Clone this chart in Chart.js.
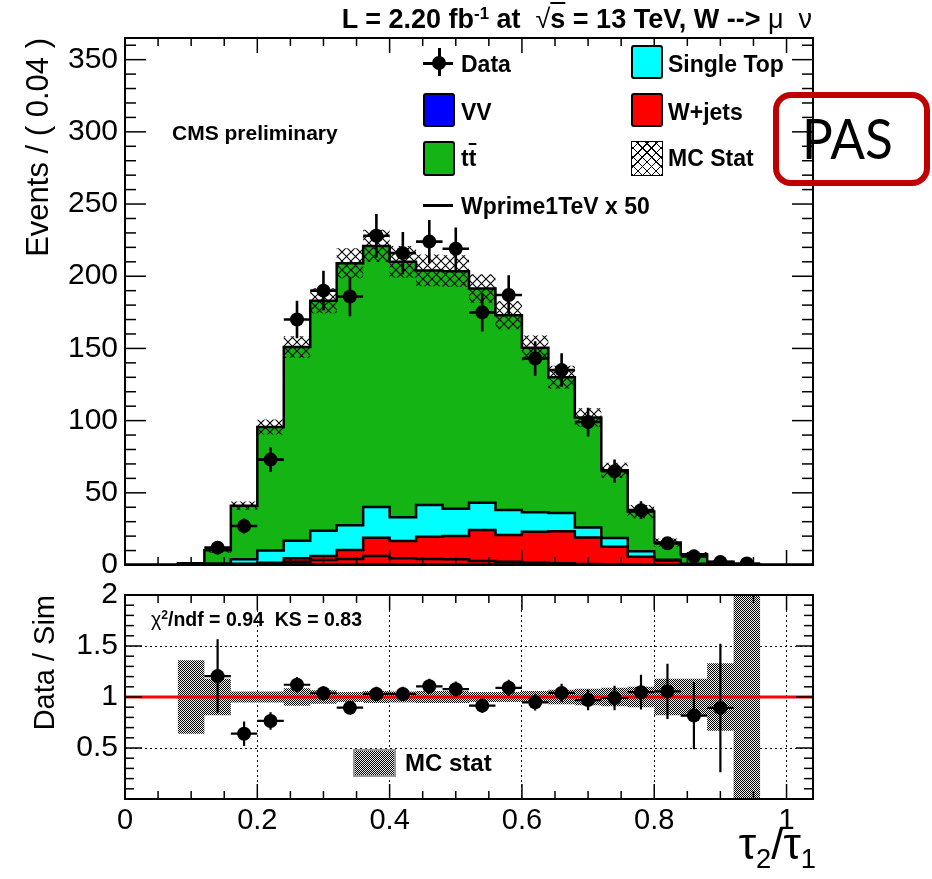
<!DOCTYPE html>
<html>
<head>
<meta charset="utf-8">
<title>tau2/tau1 distribution, W -> mu nu</title>
<script src="https://cdn.jsdelivr.net/npm/chart.js@4.4.1/dist/chart.umd.min.js"></script>
<style>
  html, body { margin: 0; padding: 0; background: #fff; }
  #page { position: relative; width: 932px; height: 879px; overflow: hidden;
          font-family: "Liberation Sans", Arial, Helvetica, sans-serif; color: #000; }
  canvas { position: absolute; left: 0; }
  #mainCanvas { top: 0; }
  #ratioCanvas { top: 580px; }
  .t { position: absolute; white-space: nowrap; line-height: 1; }
  .b { font-weight: bold; }
  .sup { font-size: 0.62em; position: relative; top: -0.55em; }
  .sub { font-size: 0.62em; position: relative; top: 0.32em; }
  .gr { font-weight: normal; }
  .ov { text-decoration: overline; }
  .sw { position: absolute; box-sizing: border-box; border: 2px solid #000; border-radius: 3px; }
  .bar { position: absolute; background: #000; }
  .dot { position: absolute; background: #000; border-radius: 50%; }
  .leg { font-size: 23px; }
  #pas { position: absolute; left: 773px; top: 92px; width: 157px; height: 94px; box-sizing: border-box;
         border: 6px solid #c00000; border-radius: 18px; }
  #pasText { position: absolute; left: 802px; top: 109px; font-family: Lato, "Open Sans", sans-serif;
             font-size: 57px; line-height: 1; transform: scaleX(0.9); transform-origin: 0 0; }
</style>
</head>
<body>
<div id="page">
  <canvas id="mainCanvas" width="932" height="580"></canvas>
  <canvas id="ratioCanvas" width="932" height="299"></canvas>

  <div class="t b" style="right:120px; top:6px; font-size:27px;">L = 2.20 fb<span class="sup">-1</span> at &nbsp;<span class="gr">√</span><span class="ov">s</span> = 13 TeV, W --&gt; <span class="gr">μ&nbsp;&nbsp;ν</span></div>

  <div class="t b" style="left:172px; top:122px; font-size:21px;">CMS preliminary</div>

  <!-- legend -->
  <div class="bar" style="left:423px; top:61.5px; width:30px; height:3px;"></div>
  <div class="bar" style="left:437.5px; top:48px; width:3px; height:28px;"></div>
  <div class="dot" style="left:432px; top:56px; width:14px; height:14px;"></div>
  <div class="t b leg" style="left:461px; top:53px;">Data</div>

  <div class="sw" style="left:631px; top:45px; width:32px; height:34px; background:#00ffff;"></div>
  <div class="t b leg" style="left:668px; top:53px;">Single Top</div>

  <div class="sw" style="left:423px; top:93px; width:32px; height:34px; background:#0000ff;"></div>
  <div class="t b leg" style="left:461px; top:101px;">VV</div>

  <div class="sw" style="left:631px; top:93px; width:32px; height:34px; background:#ff0000;"></div>
  <div class="t b leg" style="left:668px; top:101px;">W+jets</div>

  <div class="sw" style="left:423px; top:141px; width:32px; height:35px; background:#14b414;"></div>
  <div class="t b leg" style="left:461px; top:147px;">t<span class="ov">t</span></div>

  <div class="sw" style="left:631px; top:141px; width:32px; height:35px; border-width:1.5px; border-radius:0;
       background-image: repeating-linear-gradient(45deg, #000 0, #000 1px, transparent 1px, transparent 6.5px),
                         repeating-linear-gradient(-45deg, #000 0, #000 1px, transparent 1px, transparent 6.5px);"></div>
  <div class="t b leg" style="left:668px; top:147px;">MC Stat</div>

  <div class="bar" style="left:423px; top:204px; width:30px; height:3px;"></div>
  <div class="t b leg" style="left:461px; top:195px;">Wprime1TeV x 50</div>

  <div id="pas"></div>
  <div id="pasText">PAS</div>

  <!-- ratio panel annotations -->
  <div class="t b" style="left:151px; top:610px; font-size:19.5px;"><span class="gr">χ</span><span class="sup">2</span>/ndf = 0.94&nbsp;&nbsp;KS = 0.83</div>
  <div style="position:absolute; left:353px; top:749px; width:43px; height:28px; box-sizing:border-box;
       border:2px solid #999; background: repeating-conic-gradient(#000 0 25%, #f0f0f0 0 50%) 0 0 / 2px 2px;"></div>
  <div class="t b" style="left:405px; top:751px; font-size:24px;">MC stat</div>

  <div class="t" style="right:116px; top:822px; font-size:44px;">τ<span class="sub">2</span>/τ<span class="sub">1</span></div>
</div>

<script>
// ---- binning (width 0.04) ----
const binEdges = [0, 0.04, 0.08, 0.12, 0.16, 0.20, 0.24, 0.28, 0.32, 0.36, 0.40, 0.44, 0.48,
                  0.52, 0.56, 0.60, 0.64, 0.68, 0.72, 0.76, 0.80, 0.84, 0.88, 0.92, 0.96, 1.00, 1.04];

// ---- simulated backgrounds, events per bin ----
const vv        = [0, 0, 0, 0, 0.1, 0.2, 0.3, 0.3, 0.4, 0.5, 0.4, 0.4, 0.4, 0.4, 0.3, 0.3, 0.3, 0.2, 0.2, 0.1, 0.1, 0, 0, 0, 0, 0];
const wjets     = [0, 0, 0.1, 0.3, 0.7, 1.3, 4.3, 5.9, 10.0, 18.4, 16.2, 19.2, 19.6, 23.8, 20.5, 22.7, 23.0, 18.9, 12.5, 5.7, 3.1, 0.5, 0.1, 0, 0, 0];
const singleTop = [0, 0, 0.1, 0.7, 3.1, 8.5, 12.2, 17.6, 17.1, 21.3, 16.4, 21.9, 19.0, 18.9, 17.3, 13.6, 12.7, 6.9, 6.0, 3.7, 0.4, 0.3, 0.1, 0, 0, 0];
const ttbar     = [0, 0, 1.0, 9.3, 37.1, 85.5, 134.2, 159.2, 181.5, 180.8, 177.0, 162.5, 164.5, 148.4, 134.9, 113.8, 94.0, 76.2, 47.0, 27.5, 11.9, 6.7, 2.0, 0.3, 0, 0];
// MC statistical uncertainty on the summed background
const mcStatErr = [0, 0, 0.4, 1.9, 2.9, 5.2, 7.5, 8.6, 10.4, 11.2, 11.0, 11.0, 11.0, 9.8, 9.8, 8.6, 8.0, 6.3, 5.2, 4.6, 2.9, 1.5, 0.8, 0.3, 0, 0];
// W' (1 TeV) signal scaled by 50
const wprimeX50 = [0, 0, 0, 0.2, 0.3, 0.6, 2.3, 3.4, 4.2, 6.2, 4.6, 4.2, 3.9, 2.8, 2.3, 1.8, 1.2, 0.7, 0.5, 0.3, 0.2, 0.1, 0, 0, 0, 0];

// ---- observed events per bin ----
const dataCounts = [null, null, null, 12, 27, 73, 170, 190, 186, 228, 216, 224, 219, 175, 187, 143, 135, 99, 65, 38, 15, 6, 2, 1, null, null];

// ---- data / simulation ratio ----
const dataRatio    = [null, null, null, 1.205, 0.64, 0.765, 1.12, 1.037, 0.895, 1.03, 1.03, 1.105, 1.077, 0.915, 1.09, 0.948, 1.04, 0.97, 0.99, 1.047, 1.055, 0.818, 0.893, null, null, null];
const dataRatioErr = [null, null, null, 0.36, 0.12, 0.085, 0.075, 0.07, 0.065, 0.07, 0.07, 0.075, 0.075, 0.07, 0.08, 0.08, 0.09, 0.10, 0.12, 0.17, 0.27, 0.33, 0.63, null, null, null];
const mcStatRel    = [0, 0, 0.36, 0.18, 0.055, 0.055, 0.085, 0.065, 0.05, 0.06, 0.055, 0.06, 0.06, 0.05, 0.05, 0.06, 0.07, 0.08, 0.09, 0.10, 0.18, 0.18, 0.33, 1.5, 0, 0];

// ---- axis ticks ----
const xTickValues  = [0, 0.2, 0.4, 0.6, 0.8, 1.0];
const xTickLabels  = ['0', '0.2', '0.4', '0.6', '0.8', '1'];
const mainYTicks   = [0, 50, 100, 150, 200, 250, 300, 350];
const ratioYTicks  = [0, 0.5, 1, 1.5, 2];
const ratioYLabels = ['', '0.5', '1', '1.5', '2'];

// ---------------------------------------------------------------
const FONT = "'Liberation Sans', Arial, Helvetica, sans-serif";
Chart.defaults.font.family = FONT;
Chart.defaults.color = '#000';

const nBins = binEdges.length - 1;
const binCenter = i => (binEdges[i] + binEdges[i + 1]) / 2;
const binHalf = i => (binEdges[i + 1] - binEdges[i]) / 2;

function range(start, stop, step) {
  const out = [];
  for (let k = 0; start + k * step <= stop + 1e-9; k++) out.push(+(start + k * step).toFixed(6));
  return out;
}
function addArrays(...arrs) { return arrs[0].map((_, i) => arrs.reduce((s, a) => s + a[i], 0)); }

// histogram as a step line: one point per lower bin edge plus the last edge
function stepPoints(values) {
  return binEdges.map((e, i) => ({ x: e, y: values[Math.min(i, nBins - 1)] }));
}

const cumVV = vv.slice();
const cumW = addArrays(vv, wjets);
const cumST = addArrays(vv, wjets, singleTop);
const mcTotal = addArrays(vv, wjets, singleTop, ttbar);
const hatchHi = mcTotal.map((v, i) => v + mcStatErr[i]);
const hatchLo = mcTotal.map((v, i) => Math.max(0, v - mcStatErr[i]));
const bandHi = mcStatRel.map(r => 1 + r);
const bandLo = mcStatRel.map(r => 1 - r);

const dataPoints = [];
dataCounts.forEach((n, i) => {
  if (n !== null) dataPoints.push({ x: binCenter(i), y: n, xErr: binHalf(i), yErr: Math.sqrt(n) });
});
const ratioPoints = [];
dataRatio.forEach((r, i) => {
  if (r !== null) ratioPoints.push({ x: binCenter(i), y: r, xErr: binHalf(i), yErr: dataRatioErr[i] });
});

// ---- fill patterns ----
function crossHatch() {
  const c = document.createElement('canvas');
  c.width = 9; c.height = 9;
  const g = c.getContext('2d');
  g.strokeStyle = '#000'; g.lineWidth = 1.1;
  g.beginPath();
  g.moveTo(-1, -1); g.lineTo(10, 10);
  g.moveTo(10, -1); g.lineTo(-1, 10);
  g.stroke();
  return g.createPattern(c, 'repeat');
}
function stipple() {
  const c = document.createElement('canvas');
  c.width = 2; c.height = 2;
  const g = c.getContext('2d');
  g.fillStyle = '#f0f0f0'; g.fillRect(0, 0, 2, 2);
  g.fillStyle = '#000'; g.fillRect(0, 0, 1, 1); g.fillRect(1, 1, 1, 1);
  return g.createPattern(c, 'repeat');
}
const hatchPattern = crossHatch();
const stipplePattern = stipple();

// ---- plugins: frame with inward ticks, and error bars ----
const rootFrame = {
  id: 'rootFrame',
  afterDraw(chart, args, o) {
    const { ctx, chartArea: a } = chart;
    const xs = chart.scales.x, ys = chart.scales.y;
    ctx.save();
    ctx.strokeStyle = '#000';
    ctx.lineWidth = 1.5;
    const seg = (x1, y1, x2, y2) => { ctx.beginPath(); ctx.moveTo(x1, y1); ctx.lineTo(x2, y2); ctx.stroke(); };
    const isMajor = (v, list) => list.some(m => Math.abs(m - v) < 1e-6);
    o.xTicks.forEach(v => {
      const px = xs.getPixelForValue(v);
      if (px < a.left + 1 || px > a.right - 1) return;
      const len = isMajor(v, o.xMajor) ? o.xMajorLen : o.xMinorLen;
      seg(px, a.bottom, px, a.bottom - len);
      seg(px, a.top, px, a.top + len);
    });
    o.yTicks.forEach(v => {
      const py = ys.getPixelForValue(v);
      if (py < a.top + 1 || py > a.bottom - 1) return;
      const len = isMajor(v, o.yMajor) ? o.yMajorLen : o.yMinorLen;
      seg(a.left, py, a.left + len, py);
      seg(a.right, py, a.right - len, py);
    });
    ctx.lineWidth = 2;
    ctx.strokeRect(a.left, a.top, a.right - a.left, a.bottom - a.top);
    ctx.restore();
  }
};

const errorBars = {
  id: 'errorBars',
  afterDatasetsDraw(chart) {
    const { ctx, chartArea: a } = chart;
    const xs = chart.scales.x, ys = chart.scales.y;
    chart.data.datasets.forEach(ds => {
      if (!ds.errorBarWidth) return;
      ctx.save();
      ctx.beginPath(); ctx.rect(a.left, a.top, a.right - a.left, a.bottom - a.top); ctx.clip();
      ctx.strokeStyle = '#000';
      ctx.lineWidth = ds.errorBarWidth;
      ds.data.forEach(p => {
        const px = xs.getPixelForValue(p.x), py = ys.getPixelForValue(p.y);
        ctx.beginPath();
        ctx.moveTo(xs.getPixelForValue(p.x - p.xErr), py);
        ctx.lineTo(xs.getPixelForValue(p.x + p.xErr), py);
        ctx.moveTo(px, ys.getPixelForValue(p.y - p.yErr));
        ctx.lineTo(px, ys.getPixelForValue(p.y + p.yErr));
        ctx.stroke();
      });
      ctx.restore();
    });
  }
};

const histLine = (label, values, fillColor, extra) => Object.assign({
  label, data: stepPoints(values), stepped: true, pointRadius: 0,
  borderColor: '#000', borderWidth: 2.5, fill: 'origin', backgroundColor: fillColor
}, extra || {});

// ---- upper panel: stacked backgrounds, MC stat, signal, data ----
new Chart(document.getElementById('mainCanvas'), {
  type: 'line',
  data: {
    datasets: [
      { label: 'Data', data: dataPoints, showLine: false, pointRadius: 7, pointBackgroundColor: '#000',
        pointBorderWidth: 0, errorBarWidth: 2.6 },
      histLine('Wprime1TeV x 50', wprimeX50, 'transparent', { fill: false }),
      histLine('VV', cumVV, '#0000ff'),
      histLine('W+jets', cumW, '#ff0000'),
      histLine('Single Top', cumST, '#00ffff'),
      histLine('MC Stat', hatchHi, hatchPattern, { borderWidth: 0, fill: '+1' }),
      histLine('MC Stat low', hatchLo, 'transparent', { borderWidth: 0, fill: false }),
      histLine('tt', mcTotal, '#14b414')
    ]
  },
  options: {
    responsive: false, animation: false, events: [],
    layout: { padding: { left: 0, top: 38, right: 119, bottom: 15 } },
    plugins: {
      legend: { display: false }, tooltip: { enabled: false },
      rootFrame: {
        xTicks: range(0, 1.04, 0.05), xMajor: xTickValues, xMajorLen: 15, xMinorLen: 8,
        yTicks: range(0, 360, 10), yMajor: mainYTicks, yMajorLen: 21, yMinorLen: 11
      }
    },
    scales: {
      x: { type: 'linear', min: 0, max: 1.04, display: false },
      y: {
        type: 'linear', min: 0, max: 365,
        afterBuildTicks: s => { s.ticks = mainYTicks.map(v => ({ value: v })); },
        afterFit: s => { s.width = 125; s.paddingTop = 0; s.paddingBottom = 0; },
        grid: { display: false, drawTicks: false },
        border: { display: false },
        ticks: { color: '#000', font: { size: 30 }, padding: 7, autoSkip: false, callback: v => String(v) },
        title: { display: true, text: 'Events / ( 0.04 )', align: 'end', color: '#000',
                 font: { size: 31 }, padding: { top: 21, bottom: 0 } }
      }
    }
  },
  plugins: [rootFrame, errorBars]
});

// ---- lower panel: data / simulation ----
new Chart(document.getElementById('ratioCanvas'), {
  type: 'line',
  data: {
    datasets: [
      { label: 'Data / Sim', data: ratioPoints, showLine: false, pointRadius: 7, pointBackgroundColor: '#000',
        pointBorderWidth: 0, errorBarWidth: 2.2 },
      { label: 'unity', data: [{ x: 0, y: 1 }, { x: 1.04, y: 1 }], pointRadius: 0,
        borderColor: '#ff0000', borderWidth: 3, fill: false },
      histLine('MC stat', bandHi, stipplePattern, { borderWidth: 0, fill: '+1' }),
      histLine('MC stat low', bandLo, 'transparent', { borderWidth: 0, fill: false })
    ]
  },
  options: {
    responsive: false, animation: false, events: [],
    layout: { padding: { left: 0, top: 15, right: 119, bottom: 0 } },
    plugins: {
      legend: { display: false }, tooltip: { enabled: false },
      rootFrame: {
        xTicks: range(0, 1.04, 0.05), xMajor: xTickValues, xMajorLen: 15, xMinorLen: 8,
        yTicks: range(0, 2, 0.1), yMajor: ratioYTicks, yMajorLen: 17, yMinorLen: 9
      }
    },
    scales: {
      x: {
        type: 'linear', min: 0, max: 1.04, position: 'bottom',
        afterBuildTicks: s => { s.ticks = xTickValues.map(v => ({ value: v })); },
        afterFit: s => { s.height = 80; s.paddingLeft = 0; s.paddingRight = 0; },
        grid: { display: true, drawTicks: false, lineWidth: 1,
                color: c => (c.tick && c.tick.value > 0.01 && c.tick.value < 1.03) ? '#000' : 'rgba(0,0,0,0)' },
        border: { display: false, dash: [2, 3] },
        ticks: { color: '#000', font: { size: 29 }, padding: 5, autoSkip: false, maxRotation: 0,
                 callback: (v, i) => xTickLabels[i] }
      },
      y: {
        type: 'linear', min: 0, max: 2,
        afterBuildTicks: s => { s.ticks = ratioYTicks.map(v => ({ value: v })); },
        afterFit: s => { s.width = 125; s.paddingTop = 0; s.paddingBottom = 0; },
        grid: { display: true, drawTicks: false, lineWidth: 1,
                color: c => (c.tick && c.tick.value > 0.01 && c.tick.value < 1.99) ? '#000' : 'rgba(0,0,0,0)' },
        border: { display: false, dash: [2, 3] },
        ticks: { color: '#000', font: { size: 30 }, padding: 7, autoSkip: false,
                 callback: (v, i) => ratioYLabels[i] },
        title: { display: true, text: 'Data / Sim', align: 'end', color: '#000',
                 font: { size: 29 }, padding: { top: 29, bottom: 0 } }
      }
    }
  },
  plugins: [rootFrame, errorBars]
});
</script>
</body>
</html>
